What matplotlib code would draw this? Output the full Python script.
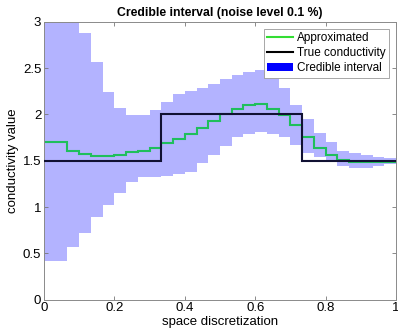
import numpy as np
import matplotlib
matplotlib.use("Agg")
import matplotlib.pyplot as plt
from matplotlib.lines import Line2D
from matplotlib.patches import Patch

plt.rcParams['font.family'] = ['Liberation Sans', 'DejaVu Sans']

# 30 elements on [0, 1]
n_elem = 30
approx = [1.70, 1.70, 1.61, 1.57, 1.55, 1.55, 1.56, 1.59, 1.61, 1.64,
          1.69, 1.73, 1.79, 1.85, 1.93, 2.00, 2.06, 2.10, 2.11, 2.06,
          1.99, 1.88, 1.76, 1.64, 1.56, 1.51, 1.49, 1.49, 1.49, 1.49]
ci_upper = [3.40, 3.40, 3.15, 2.88, 2.57, 2.24, 2.07, 1.99, 1.99, 2.05,
            2.13, 2.22, 2.25, 2.29, 2.33, 2.38, 2.42, 2.46, 2.48, 2.46,
            2.28, 2.10, 1.95, 1.80, 1.70, 1.61, 1.58, 1.56, 1.54, 1.53]
ci_lower = [0.42, 0.42, 0.57, 0.72, 0.89, 1.02, 1.15, 1.27, 1.32, 1.32,
            1.33, 1.36, 1.38, 1.47, 1.56, 1.66, 1.76, 1.79, 1.81, 1.79,
            1.76, 1.67, 1.58, 1.54, 1.49, 1.44, 1.42, 1.42, 1.44, 1.46]
true_edges = [0, 1/3, 11/15, 1]
true_vals = [1.5, 2.0, 1.5]

edges = np.linspace(0, 1, n_elem + 1)

fig = plt.figure(figsize=(3.98, 3.34), dpi=100)
ax = fig.add_axes([0.1106, 0.1027, 0.8844, 0.8323])

ax.stairs(ci_upper, edges, baseline=ci_lower, fill=True, color='#b3b3ff',
          linewidth=0, zorder=1)
ax.stairs(approx, edges, baseline=None, color='#1fbf5c', linewidth=1.5,
          zorder=2)
ax.stairs(true_vals, true_edges, baseline=None, color='#111133',
          linewidth=1.5, zorder=3)

ax.set_xlim(0, 1)
ax.set_ylim(0, 3)
ax.set_xticks(np.arange(0, 1.01, 0.2))
ax.set_xticklabels(['0', '0.2', '0.4', '0.6', '0.8', '1'])
ax.set_yticks(np.arange(0, 3.01, 0.5))
ax.set_yticklabels(['0', '0.5', '1', '1.5', '2', '2.5', '3'])
ax.tick_params(direction='in', top=True, right=True, length=3, width=0.6,
               color='#777777', labelsize=9.5, pad=2)
for s in ax.spines.values():
    s.set_color('#8a8a8a')
    s.set_linewidth(0.7)

ax.set_xlabel('space discretization', fontsize=9.5, labelpad=1)
ax.set_ylabel('conductivity value', fontsize=9.5, labelpad=3)
ax.set_title('Credible interval (noise level 0.1 %)', fontsize=8.8,
             fontweight='bold', pad=4)

handles = [Line2D([], [], color='#33dd33', linewidth=1.5),
           Line2D([], [], color='black', linewidth=1.5),
           Patch(facecolor='blue', edgecolor='none')]
labels = ['Approximated', 'True conductivity', 'Credible interval']
leg = ax.legend(handles, labels, loc='upper right', fontsize=8.5,
                fancybox=False, framealpha=1, edgecolor='#999999',
                borderaxespad=0.6, handlelength=2.2, handletextpad=0.3,
                labelspacing=0.25, borderpad=0.3)
leg.get_frame().set_linewidth(0.6)

fig.savefig('out.png', dpi=100)
